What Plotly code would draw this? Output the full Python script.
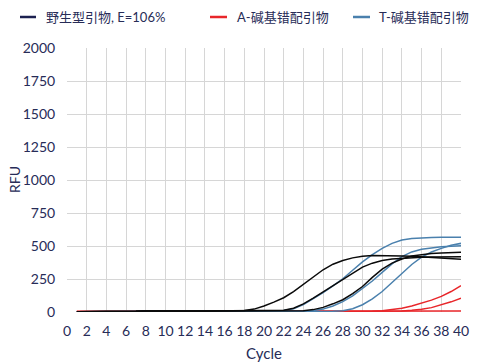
import plotly.graph_objects as go

# qPCR amplification curves, cycles 1..40
cycles = list(range(1, 41))

wt_a = [2, 2, 3, 3, 3, 4, 5, 8, 9, 9, 10, 9, 8, 8, 8, 8, 8, 12, 22, 45,
        75, 108, 155, 210, 268, 320, 362, 390, 410, 422, 428, 428, 427, 425, 422, 418, 414, 410, 405, 400]
wt_b = [2, 2, 3, 3, 3, 4, 5, 8, 9, 9, 10, 9, 8, 8, 8, 8, 8, 8, 8, 8,
        9, 13, 28, 62, 105, 152, 200, 248, 298, 340, 370, 390, 402, 408, 412, 415, 417, 418, 419, 419]
wt_c = [2, 2, 3, 3, 3, 4, 5, 8, 9, 9, 10, 9, 8, 8, 8, 8, 8, 8, 8, 8,
        8, 8, 8, 10, 18, 35, 62, 93, 140, 193, 262, 325, 370, 402, 424, 436, 443, 447, 450, 452]

t_mis_1 = [2, 2, 2, 3, 3, 3, 4, 6, 7, 7, 7, 7, 6, 6, 6, 6, 6, 6, 6, 6,
           7, 11, 24, 56, 98, 146, 198, 252, 316, 380, 435, 482, 520, 545, 557, 563, 565, 566, 566, 566]
t_mis_2 = [2, 2, 2, 3, 3, 3, 4, 5, 6, 6, 6, 6, 5, 5, 5, 5, 5, 5, 5, 5,
           5, 5, 6, 7, 11, 22, 45, 78, 122, 175, 235, 300, 365, 420, 455, 475, 487, 494, 498, 502]
t_mis_3 = [2, 2, 2, 3, 3, 3, 3, 4, 4, 4, 4, 4, 4, 4, 4, 4, 4, 4, 4, 4,
           4, 4, 4, 4, 4, 5, 6, 9, 25, 55, 100, 155, 222, 293, 360, 415, 455, 482, 505, 520]

a_mis_1 = [3, 3, 3, 3, 3, 3, 3, 3, 3, 3, 3, 3, 3, 3, 3, 3, 3, 3, 3, 3,
           3, 3, 3, 3, 3, 3, 3, 3, 3, 3, 5, 10, 18, 28, 45, 66, 90, 118, 155, 199]
a_mis_2 = [3, 3, 3, 3, 3, 3, 3, 3, 3, 3, 3, 3, 3, 3, 3, 3, 3, 3, 3, 3,
           3, 3, 3, 3, 3, 3, 3, 3, 3, 3, 3, 3, 4, 8, 13, 20, 33, 53, 77, 104]
a_mis_3 = [4, 4, 4, 4, 4, 4, 4, 4, 4, 4, 4, 4, 4, 4, 4, 4, 4, 4, 4, 4,
           4, 4, 4, 4, 4, 4, 4, 4, 4, 4, 4, 4, 4, 4, 4, 5, 5, 6, 6, 7]

legend_labels = ["野生型引物, E=106%", "A-碱基错配引物", "T-碱基错配引物"]
x_ticks = list(range(0, 41, 2))
y_ticks = list(range(0, 2001, 250))
x_title = "Cycle"
y_title = "RFU"

TEXT = "#272c57"
BLACK = "#0a0a0a"
RED = "#e8262a"
BLUE = "#4a80ad"
SWATCH = ["#1c2150", RED, BLUE]
FONT = "Lato, 'Noto Sans CJK SC', sans-serif"

fig = go.Figure()

# drawing order: red beneath, blue, then black on top
for ys in (a_mis_1, a_mis_2, a_mis_3):
    fig.add_trace(go.Scatter(x=cycles, y=ys, mode="lines",
                             line=dict(color=RED, width=1.5), showlegend=False))
for ys in (t_mis_1, t_mis_2, t_mis_3):
    fig.add_trace(go.Scatter(x=cycles, y=ys, mode="lines",
                             line=dict(color=BLUE, width=1.5), showlegend=False))
for ys in (wt_a, wt_b, wt_c):
    fig.add_trace(go.Scatter(x=cycles, y=ys, mode="lines",
                             line=dict(color=BLACK, width=1.5), showlegend=False))

# page geometry used for the legend row and axis titles
W, H = 480, 364
L, R, T, B = 67, 19, 48, 52
pw, ph = W - L - R, H - T - B

def px_x(p):
    return (p - L) / pw

def px_y(p):
    return (H - B - p) / ph

legend_items = [(20, 36, 44), (210, 227, 235), (353, 370, 377)]
for (x0, x1, tx), col, label in zip(legend_items, SWATCH, legend_labels):
    fig.add_shape(type="line", xref="paper", yref="paper",
                  x0=px_x(x0), x1=px_x(x1), y0=px_y(17), y1=px_y(17),
                  line=dict(color=col, width=2.5))
    fig.add_annotation(xref="paper", yref="paper", x=px_x(tx), y=px_y(17),
                       text=label, showarrow=False, xanchor="left", yanchor="middle",
                       font=dict(family=FONT, size=13, color=TEXT))

fig.add_annotation(xref="paper", yref="paper", x=px_x(264), y=px_y(353),
                   text=x_title, showarrow=False, xanchor="center", yanchor="middle",
                   font=dict(family=FONT, size=15, color=TEXT))
fig.add_annotation(xref="paper", yref="paper", x=px_x(14), y=px_y(180),
                   text=y_title, showarrow=False, xanchor="center", yanchor="middle",
                   textangle=-90, font=dict(family=FONT, size=14, color=TEXT))

fig.update_layout(
    width=W, height=H,
    margin=dict(l=L, r=R, t=T, b=B, autoexpand=False),
    paper_bgcolor="white", plot_bgcolor="white",
    font=dict(family=FONT, color=TEXT, size=14),
    showlegend=False,
)
fig.update_xaxes(
    range=[0, 40], tickvals=x_ticks, ticktext=[str(v) for v in x_ticks],
    showgrid=True, gridcolor="#d6d6d6", gridwidth=1, zeroline=False, showline=False,
    ticks="outside", ticklen=6, tickcolor="rgba(0,0,0,0)", automargin=False,
    tickfont=dict(size=14, color=TEXT),
)
fig.update_yaxes(
    range=[0, 2000], tickvals=y_ticks, ticktext=[str(v) for v in y_ticks],
    showgrid=True, gridcolor="#d6d6d6", gridwidth=1, zeroline=False, showline=False,
    ticks="outside", ticklen=8, tickcolor="rgba(0,0,0,0)", automargin=False,
    tickfont=dict(size=14, color=TEXT),
)

fig.write_html("out.html")
